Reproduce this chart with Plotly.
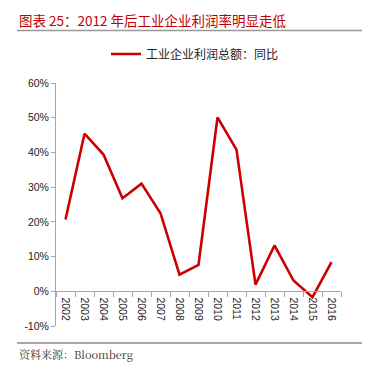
import plotly.graph_objects as go

years = ["2002", "2003", "2004", "2005", "2006", "2007", "2008", "2009",
         "2010", "2011", "2012", "2013", "2014", "2015", "2016"]
profit_yoy = [20.7, 45.4, 39.4, 26.8, 31.0, 22.5, 4.8, 7.6,
              50.1, 40.8, 1.9, 13.2, 3.1, -1.7, 8.4]
y_ticks = [-10, 0, 10, 20, 30, 40, 50, 60]
series_name = "工业企业利润总额：同比"
title_text = "图表 25：2012 年后工业企业利润率明显走低"
source_text = "资料来源：Bloomberg"

# page body has an 8px margin; work in page pixels and convert
OFF = 8
W, H = 391 - OFF, 380 - OFF
PL, PR, PT, PB = 56, 341, 83, 326          # plot area in page pixels
ML, MR, MT, MB = PL - OFF, W - (PR - OFF), PT - OFF, H - (PB - OFF)
ymin, ymax = -10, 60
pw, ph = W - ML - MR, H - MT - MB


def px(xp):
    return (xp - PL) / pw


def py(yp):
    return (PB - yp) / ph


fig = go.Figure()
fig.add_trace(go.Scatter(
    x=years, y=profit_yoy, mode="lines", name=series_name,
    line=dict(color="#cc0000", width=2.6),
))

axis_font = dict(family="Liberation Sans, Arial, sans-serif", size=10.5, color="#222222")

fig.update_layout(
    width=W, height=H,
    margin=dict(l=ML, r=MR, t=MT, b=MB, pad=0, autoexpand=False),
    paper_bgcolor="white", plot_bgcolor="white",
    showlegend=True,
    legend=dict(orientation="h", x=px(106), xanchor="left", y=py(54),
                yanchor="middle", font=dict(family="Noto Sans CJK SC", size=12, color="#222222"),
                bgcolor="rgba(0,0,0,0)", itemwidth=30),
    xaxis=dict(
        type="category", anchor="free", position=(0 - ymin) / (ymax - ymin),
        showline=True, linecolor="#a6a6a6", linewidth=1,
        ticks="outside", tickson="boundaries", ticklen=5, tickcolor="#a6a6a6",
        tickangle=90, tickfont=axis_font, ticklabelstandoff=3,
        showgrid=False, zeroline=False,
        range=[-0.5, len(years) - 0.5],
    ),
    yaxis=dict(
        range=[ymin, ymax], tickvals=y_ticks, ticktext=[f"{v}%" for v in y_ticks],
        showline=True, linecolor="#a6a6a6", linewidth=1,
        ticks="outside", ticklen=4, tickcolor="#a6a6a6",
        tickfont=axis_font, showgrid=False, zeroline=False,
    ),
    annotations=[
        dict(text=title_text, xref="paper", yref="paper",
             x=px(17), y=py(20),
             xanchor="left", yanchor="middle", showarrow=False,
             font=dict(family="Noto Sans CJK SC", size=13.5, color="#c00000")),
        dict(text=source_text, xref="paper", yref="paper",
             x=px(17), y=py(354),
             xanchor="left", yanchor="middle", showarrow=False,
             font=dict(family="Noto Serif CJK SC, Liberation Serif, serif", size=11, color="#333333")),
    ],
    shapes=[
        dict(type="line", xref="paper", yref="paper",
             x0=px(17), x1=px(362), y0=py(30.5), y1=py(30.5),
             line=dict(color="#999999", width=1.5)),
        dict(type="line", xref="paper", yref="paper",
             x0=px(17), x1=px(362), y0=py(343), y1=py(343),
             line=dict(color="#555555", width=1.2)),
    ],
)

fig.write_html("out.html")
